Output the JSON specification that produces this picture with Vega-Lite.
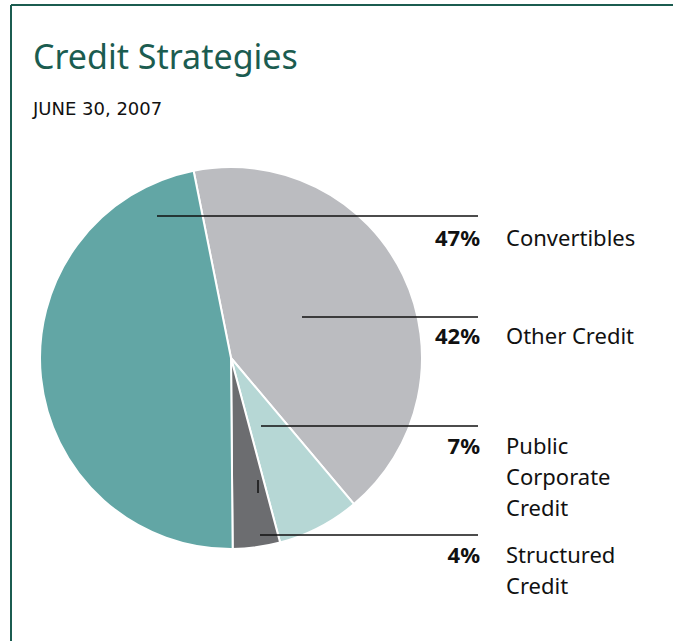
{
  "$schema": "https://vega.github.io/schema/vega-lite/v6.json",
  "width": 673,
  "height": 641,
  "autosize": "none",
  "padding": 0,
  "background": "white",
  "config": {"view": {"stroke": null}, "font": "Noto Sans"},
  "title": {
    "text": "Credit Strategies",
    "subtitle": "JUNE 30, 2007",
    "anchor": "start",
    "frame": "group",
    "orient": "top",
    "offset": -119,
    "dx": 33,
    "font": "Noto Sans",
    "fontSize": 34,
    "fontWeight": "normal",
    "color": "#1b5c50",
    "subtitleFont": "DejaVu Sans",
    "subtitleFontSize": 18,
    "subtitleColor": "#111111",
    "subtitlePadding": 25
  },
  "datasets": {
    "frame": [
      {"side": "top", "x": 11, "x2": 673, "y": 5, "y2": 5},
      {"side": "left", "x": 11, "x2": 11, "y": 5, "y2": 641}
    ],
    "slices": [
      {"category": "Other Credit", "pct": 42, "order": 1},
      {"category": "Public Corporate Credit", "pct": 7, "order": 2},
      {"category": "Structured Credit", "pct": 4, "order": 3},
      {"category": "Convertibles", "pct": 47, "order": 4}
    ],
    "leaders": [
      {"category": "Convertibles", "x": 157, "x2": 478, "y": 216, "y2": 216},
      {"category": "Other Credit", "x": 302, "x2": 478, "y": 317, "y2": 317},
      {"category": "Public Corporate Credit", "x": 261, "x2": 478, "y": 426, "y2": 426},
      {"category": "Structured Credit", "x": 260, "x2": 478, "y": 535, "y2": 535},
      {"category": "Structured Credit tick", "x": 258, "x2": 258, "y": 480, "y2": 493}
    ],
    "labels": [
      {"category": "Convertibles", "pctLabel": "47%", "name": "Convertibles", "y": 246},
      {"category": "Other Credit", "pctLabel": "42%", "name": "Other Credit", "y": 344},
      {"category": "Public Corporate Credit", "pctLabel": "7%", "name": "Public\nCorporate\nCredit", "y": 454},
      {"category": "Structured Credit", "pctLabel": "4%", "name": "Structured\nCredit", "y": 563}
    ]
  },
  "layer": [
    {
      "data": {"name": "frame"},
      "mark": {"type": "rule", "color": "#1b5c50", "strokeWidth": 2},
      "encoding": {
        "x": {"field": "x", "type": "quantitative", "scale": {"domain": [0, 673], "nice": false}, "axis": null},
        "x2": {"field": "x2"},
        "y": {"field": "y", "type": "quantitative", "scale": {"domain": [0, 641], "nice": false, "reverse": true}, "axis": null},
        "y2": {"field": "y2"}
      }
    },
    {
      "data": {"name": "slices"},
      "mark": {"type": "arc", "radius": 191, "stroke": "white", "strokeWidth": 2},
      "encoding": {
        "theta": {"field": "pct", "type": "quantitative", "stack": true, "scale": {"range": [-0.1972, 6.0860]}},
        "order": {"field": "order", "type": "quantitative"},
        "color": {
          "field": "category",
          "type": "nominal",
          "scale": {
            "domain": ["Convertibles", "Other Credit", "Public Corporate Credit", "Structured Credit"],
            "range": ["#62a6a5", "#bbbcc0", "#b6d7d5", "#6c6d70"]
          },
          "legend": null
        },
        "x": {"datum": 231, "type": "quantitative", "scale": {"domain": [0, 673], "nice": false}, "axis": null},
        "y": {"datum": 358, "type": "quantitative", "scale": {"domain": [0, 641], "nice": false, "reverse": true}, "axis": null}
      }
    },
    {
      "data": {"name": "leaders"},
      "mark": {"type": "rule", "color": "#111111", "strokeWidth": 1.5},
      "encoding": {
        "x": {"field": "x", "type": "quantitative", "scale": {"domain": [0, 673], "nice": false}, "axis": null},
        "x2": {"field": "x2"},
        "y": {"field": "y", "type": "quantitative", "scale": {"domain": [0, 641], "nice": false, "reverse": true}, "axis": null},
        "y2": {"field": "y2"}
      }
    },
    {
      "data": {"name": "labels"},
      "mark": {"type": "text", "align": "right", "baseline": "alphabetic", "font": "Noto Sans", "fontSize": 22, "fontWeight": "bold", "color": "#111111", "dx": 2},
      "encoding": {
        "x": {"datum": 478, "type": "quantitative", "scale": {"domain": [0, 673], "nice": false}, "axis": null},
        "y": {"field": "y", "type": "quantitative", "scale": {"domain": [0, 641], "nice": false, "reverse": true}, "axis": null},
        "text": {"field": "pctLabel"}
      }
    },
    {
      "data": {"name": "labels"},
      "mark": {"type": "text", "align": "left", "baseline": "alphabetic", "font": "Noto Sans", "fontSize": 22, "color": "#111111", "lineBreak": "\n", "lineHeight": 31},
      "encoding": {
        "x": {"datum": 506, "type": "quantitative", "scale": {"domain": [0, 673], "nice": false}, "axis": null},
        "y": {"field": "y", "type": "quantitative", "scale": {"domain": [0, 641], "nice": false, "reverse": true}, "axis": null},
        "text": {"field": "name"}
      }
    }
  ]
}
